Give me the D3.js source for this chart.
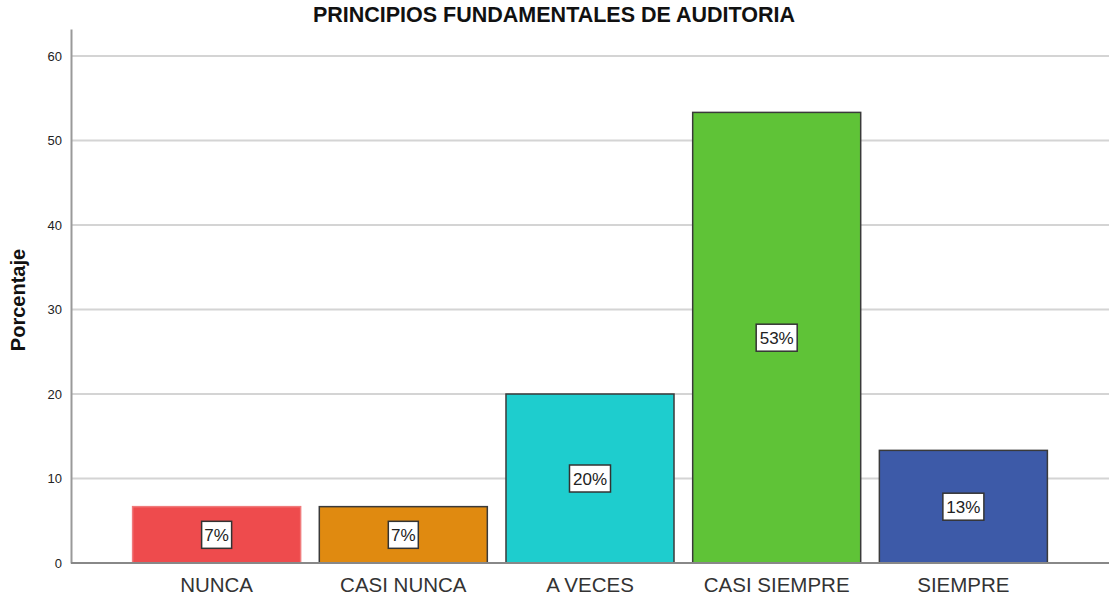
<!DOCTYPE html>
<html lang="es">
<head>
<meta charset="UTF-8">
<title>Principios fundamentales de auditoria</title>
<script src="https://d3js.org/d3.v7.min.js"></script>
<style>
  body { margin: 0; background: #fff; }
  text { font-family: "Liberation Sans", Arial, sans-serif; }
</style>
</head>
<body>
<div id="chart"></div>
<script>
const categories = ["NUNCA", "CASI NUNCA", "A VECES", "CASI SIEMPRE", "SIEMPRE"];
const percents = [6.67, 6.67, 20, 53.33, 13.33];
const labels = ["7%", "7%", "20%", "53%", "13%"];
const colors = ["#ee4b4d", "#e08a10", "#1ecdce", "#5fc337", "#3d5aa8"];
const strokes = ["#f07a7b", "#3a3a3a", "#3a3a3a", "#3a3a3a", "#3a3a3a"];
const yTicks = [0, 10, 20, 30, 40, 50, 60];

const width = 1110, height = 597;
const margin = { top: 29, right: 1, bottom: 34, left: 71 };

const svg = d3.select("#chart").append("svg")
    .attr("width", width)
    .attr("height", height);

const x = d3.scaleBand()
    .domain(categories)
    .range([margin.left, width - margin.right])
    .paddingInner(0.1)
    .paddingOuter(0.33);

const y = d3.scaleLinear()
    .domain([0, 63.2])
    .range([height - margin.bottom, margin.top]);

// gridlines
svg.append("g")
    .selectAll("line")
    .data(yTicks.filter(d => d > 0))
    .join("line")
    .attr("x1", margin.left)
    .attr("x2", width - margin.right)
    .attr("y1", d => y(d))
    .attr("y2", d => y(d))
    .attr("stroke", "#d4d4d4")
    .attr("stroke-width", 2);

// y axis
const yAxis = svg.append("g")
    .attr("transform", `translate(${margin.left},0)`)
    .call(d3.axisLeft(y).tickValues(yTicks).tickSize(0).tickPadding(9));
yAxis.select(".domain").attr("stroke", "#999").attr("stroke-width", 2);
yAxis.selectAll("text").attr("font-size", 13).attr("fill", "#222")
    .style("font-family", "'Liberation Sans', Arial, sans-serif");

// bars
svg.append("g")
    .selectAll("rect")
    .data(categories)
    .join("rect")
    .attr("x", d => x(d))
    .attr("y", (d, i) => y(percents[i]))
    .attr("width", x.bandwidth())
    .attr("height", (d, i) => y(0) - y(percents[i]))
    .attr("fill", (d, i) => colors[i])
    .attr("stroke", (d, i) => strokes[i])
    .attr("stroke-width", 1.5);

// x axis baseline
svg.append("line")
    .attr("x1", margin.left)
    .attr("x2", width - margin.right)
    .attr("y1", y(0))
    .attr("y2", y(0))
    .attr("stroke", "#888")
    .attr("stroke-width", 2);

// x labels
svg.append("g")
    .selectAll("text")
    .data(categories)
    .join("text")
    .attr("x", d => x(d) + x.bandwidth() / 2)
    .attr("y", height - 5)
    .attr("text-anchor", "middle")
    .attr("font-size", 20.5)
    .attr("fill", "#333")
    .text(d => d);

// value labels with boxes
const lab = svg.append("g")
    .selectAll("g")
    .data(categories)
    .join("g")
    .attr("transform", (d, i) => `translate(${x(d) + x.bandwidth() / 2},${y(percents[i] / 2)})`);

lab.append("rect")
    .attr("x", (d, i) => labels[i].length > 2 ? -20.5 : -15)
    .attr("y", -13.5)
    .attr("width", (d, i) => labels[i].length > 2 ? 41 : 30)
    .attr("height", 27)
    .attr("fill", "#fff")
    .attr("stroke", "#333")
    .attr("stroke-width", 1.5);

lab.append("text")
    .attr("text-anchor", "middle")
    .attr("dy", "0.36em")
    .attr("font-size", 17)
    .attr("fill", "#222")
    .text((d, i) => labels[i]);

// title
svg.append("text")
    .attr("x", 554)
    .attr("y", 22)
    .attr("text-anchor", "middle")
    .attr("font-size", 21.5)
    .attr("font-weight", "bold")
    .attr("fill", "#111")
    .text("PRINCIPIOS FUNDAMENTALES DE AUDITORIA");

// y axis title
svg.append("text")
    .attr("transform", "translate(25,300) rotate(-90)")
    .attr("text-anchor", "middle")
    .attr("font-size", 20)
    .attr("font-weight", "bold")
    .attr("fill", "#111")
    .text("Porcentaje");
</script>
</body>
</html>
